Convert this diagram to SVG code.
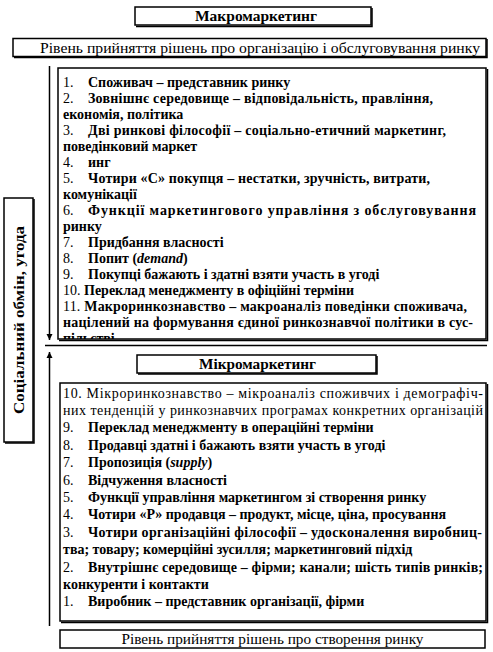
<svg xmlns="http://www.w3.org/2000/svg" width="493" height="652" viewBox="0 0 493 652">
<defs>
<style>
.t{font-family:"Liberation Serif","Times New Roman",serif;font-size:14px;fill:#000}
.b{font-weight:bold}
.i{font-style:italic}
.c{text-anchor:middle}
.box{fill:#fff;stroke:#000;stroke-width:1.5}
.sh{fill:none;stroke:#000;stroke-width:1.5}
.ln{stroke:#000;stroke-width:1.5;fill:none}
</style>
<marker id="ah" viewBox="0 0 6 10" refX="6" refY="5" markerWidth="6" markerHeight="10" markerUnits="userSpaceOnUse" orient="auto">
<path d="M0,2 L6,5 L0,8 Z" fill="#000"/>
</marker>
<clipPath id="macroClip"><rect x="59" y="69" width="427" height="270"/></clipPath>
</defs>

<g id="connectors">
<line class="ln" x1="49.5" y1="66" x2="49.5" y2="340" marker-end="url(#ah)"/>
<line class="ln" x1="49.5" y1="626" x2="49.5" y2="352" marker-end="url(#ah)"/>
<line class="ln" x1="45" y1="345.5" x2="487" y2="345.5"/>
</g>

<g id="macro-title">
<rect class="box" x="135" y="7" width="236" height="18"/>
<path class="sh" d="M372,8 V26.5 H136"/>
<text class="t b" x="195" y="21" textLength="122" lengthAdjust="spacingAndGlyphs">Макромаркетинг</text>
</g>

<g id="macro-level">
<rect class="box" x="13" y="38.5" width="473" height="18"/>
<path class="sh" d="M487,39 V57.5 H14"/>
<text class="t" x="40" y="52.5" textLength="440" lengthAdjust="spacingAndGlyphs" style="font-size:15px">Рівень прийняття рішень про організацію і обслуговування ринку</text>
</g>

<g id="macro-list">
<rect class="box" x="58" y="68" width="428" height="271"/>
<path class="sh" d="M487.5,69 V340.5 H59"/>
<g clip-path="url(#macroClip)">
<text class="t" x="63" y="87">1.</text>
<text class="t b" x="88" y="87">Споживач – представник ринку</text>
<text class="t" x="63" y="103">2.</text>
<text class="t b" x="88" y="103" textLength="345" lengthAdjust="spacing">Зовнішнє середовище – відповідальність, правління,</text>
<text class="t b" x="63" y="119">економія, політика</text>
<text class="t" x="63" y="135">3.</text>
<text class="t b" x="88" y="135" textLength="358" lengthAdjust="spacing">Дві ринкові філософії – соціально-етичний маркетинг,</text>
<text class="t b" x="63" y="151">поведінковий маркет</text>
<text class="t" x="63" y="167">4.</text>
<text class="t b" x="88" y="167">инг</text>
<text class="t" x="63" y="183">5.</text>
<text class="t b" x="88" y="183" textLength="342" lengthAdjust="spacing">Чотири «С» покупця – нестатки, зручність, витрати,</text>
<text class="t b" x="63" y="199">комунікації</text>
<text class="t" x="63" y="215">6.</text>
<text class="t b" x="88" y="215" textLength="388" lengthAdjust="spacing">Функції маркетингового управління з обслуговування</text>
<text class="t b" x="63" y="231">ринку</text>
<text class="t" x="63" y="247">7.</text>
<text class="t b" x="88" y="247">Придбання власності</text>
<text class="t" x="63" y="263">8.</text>
<text class="t b" x="88" y="263">Попит (<tspan class="i">demand</tspan>)</text>
<text class="t" x="63" y="279">9.</text>
<text class="t b" x="88" y="279">Покупці бажають і здатні взяти участь в угоді</text>
<text class="t" x="63" y="295">10. <tspan class="b">Переклад менеджменту в офіційні терміни</tspan></text>
<text class="t" x="63" y="311" textLength="404" lengthAdjust="spacing">11. <tspan class="b">Макроринкознавство – макроаналіз поведінки споживача,</tspan></text>
<text class="t b" x="63" y="327" textLength="410" lengthAdjust="spacing">націлений на формування єдиної ринкознавчої політики в сус-</text>
<text class="t b" x="63" y="343">пільстві</text>
</g>
</g>

<g id="social-exchange">
<rect class="box" x="4" y="198" width="29" height="244"/>
<path class="sh" d="M34,199 V443 H5"/>
<text class="t b c" transform="translate(23.5,320) rotate(-90)" textLength="188" lengthAdjust="spacingAndGlyphs" style="font-size:15px">Соціальний обмін, угода</text>
</g>

<g id="micro-title">
<rect class="box" x="137" y="355" width="239" height="18"/>
<path class="sh" d="M377,356 V374 H138"/>
<text class="t b" x="199" y="369" textLength="117" lengthAdjust="spacingAndGlyphs">Мікромаркетинг</text>
</g>

<g id="micro-list">
<rect class="box" x="60" y="383" width="426" height="238"/>
<path class="sh" d="M487.5,384 V622.5 H61"/>
<text class="t" x="63" y="397.5" textLength="420" lengthAdjust="spacing">10. Мікроринкознавство – мікроаналіз споживчих і демографіч-</text>
<text class="t" x="63" y="414.9" textLength="420" lengthAdjust="spacing">них тенденцій у ринкознавчих програмах конкретних організацій</text>
<text class="t" x="63" y="432.3">9.</text>
<text class="t b" x="88" y="432.3">Переклад менеджменту в операційні терміни</text>
<text class="t" x="63" y="449.7">8.</text>
<text class="t b" x="88" y="449.7">Продавці здатні і бажають взяти участь в угоді</text>
<text class="t" x="63" y="467.1">7.</text>
<text class="t b" x="88" y="467.1">Пропозиція (<tspan class="i">supply</tspan>)</text>
<text class="t" x="63" y="484.5">6.</text>
<text class="t b" x="88" y="484.5">Відчуження власності</text>
<text class="t" x="63" y="501.9">5.</text>
<text class="t b" x="88" y="501.9">Функції управління маркетингом зі створення ринку</text>
<text class="t" x="63" y="519.3">4.</text>
<text class="t b" x="88" y="519.3">Чотири «Р» продавця – продукт, місце, ціна, просування</text>
<text class="t" x="63" y="536.7">3.</text>
<text class="t b" x="88" y="536.7" textLength="394" lengthAdjust="spacing">Чотири організаційні філософії – удосконалення виробниц-</text>
<text class="t b" x="63" y="554.1">тва; товару; комерційні зусилля; маркетинговий підхід</text>
<text class="t" x="63" y="571.5">2.</text>
<text class="t b" x="88" y="571.5" textLength="395" lengthAdjust="spacing">Внутрішнє середовище – фірми; канали; шість типів ринків;</text>
<text class="t b" x="63" y="588.9">конкуренти і контакти</text>
<text class="t" x="63" y="606.3">1.</text>
<text class="t b" x="88" y="606.3">Виробник – представник організації, фірми</text>
</g>

<g id="micro-level">
<rect class="box" x="60" y="630" width="425" height="18"/>
<text class="t c" x="272.5" y="644" textLength="302" lengthAdjust="spacingAndGlyphs" style="font-size:15px">Рівень прийняття рішень про створення ринку</text>
</g>
</svg>
